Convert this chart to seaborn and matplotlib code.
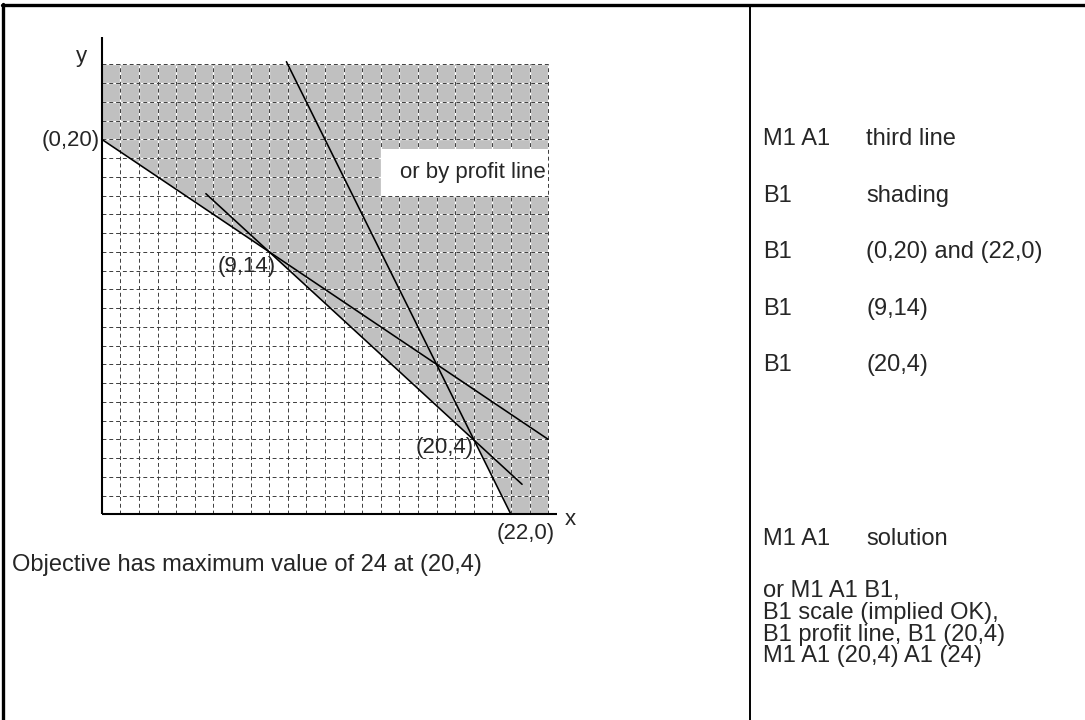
import matplotlib.pyplot as plt
import seaborn as sns

# corner points of the feasible region (labelled on the graph)
corner_x = [0, 9, 20, 22]
corner_y = [20, 14, 4, 0]
corner_labels = ["(0,20)", "(9,14)", "(20,4)", "(22,0)"]

# the three drawn lines, end points
line1_x = [0, 24]
line1_y = [20, 4]
line2_x = [5.6, 22.6]
line2_y = [17.1, 1.6]
line3_x = [9.93, 22]
line3_y = [24.14, 0]

grid_max = 24

# mark scheme column
marks = ["M1 A1", "B1", "B1", "B1", "B1", "M1 A1"]
notes = ["third line", "shading", "(0,20) and (22,0)", "(9,14)", "(20,4)", "solution"]
alt_notes = ["or M1 A1 B1,", "B1 scale (implied OK),",
             "B1 profit line, B1 (20,4)", "M1 A1 (20,4) A1 (24)"]
answer = "Objective has maximum value of 24 at (20,4)"

sns.set_style("white")
plt.rcParams["font.family"] = ["Liberation Sans", "DejaVu Sans"]

W, H = 1085, 720
fig = plt.figure(figsize=(W / 100, H / 100), dpi=100)
ax = fig.add_axes([0, 0, 1, 1])
ax.axis("off")

# map data units to pixels: x=0 at 101.7px, 18.6px per unit; y=0 at 514.3px from top, 18.75px per unit
x0, sx = 101.7, 18.6
y0, sy = H - 514.3, 18.75
ax.set_xlim(-x0 / sx, (W - x0) / sx)
ax.set_ylim(-y0 / sy, (H - y0) / sy)

# shaded (rejected) region
shade_x = [corner_x[0], 0, grid_max, grid_max] + corner_x[:0:-1]
shade_y = [corner_y[0], grid_max, grid_max, 0] + corner_y[:0:-1]
ax.fill(shade_x, shade_y, color="#c0c0c0", lw=0, zorder=1)

# graph paper grid
ticks = list(range(1, grid_max + 1))
ax.vlines(ticks, 0, grid_max, color="white", lw=0.9, zorder=2)
ax.hlines(ticks, 0, grid_max, color="white", lw=0.9, zorder=2)
ax.vlines(ticks, 0, grid_max, color="#3c3c3c", lw=0.7, linestyles=(0, (4, 3)), zorder=3)
ax.hlines(ticks, 0, grid_max, color="#3c3c3c", lw=0.7, linestyles=(0, (4, 3)), zorder=3)

# white box with note
ax.fill([15, 24, 24, 15], [17, 17, 19.5, 19.5], color="white", lw=0, zorder=4)
ax.text(23.9, 18.25, "or by profit line", fontsize=16, ha="right", va="center", zorder=8)

# lines
for lx, ly in [(line1_x, line1_y), (line2_x, line2_y), (line3_x, line3_y)]:
    sns.lineplot(x=lx, y=ly, ax=ax, color="black", lw=1.15, sort=False,
                 estimator=None, zorder=5)

# axes
ax.plot([0, 0], [0, 25.43], color="black", lw=1.5, zorder=6, solid_capstyle="butt")
ax.plot([0, 24.5], [0, 0], color="black", lw=1.5, zorder=6, solid_capstyle="butt")
ax.text(-1.1, 24.4, "y", fontsize=16, ha="center", va="center")
ax.text(25.2, -0.3, "x", fontsize=16, ha="center", va="center")

# corner labels
label_pos = [(-0.08, 19.96, "right"), (9.35, 13.2, "right"), (20.0, 3.55, "right"), (22.8, -1.05, "center")]
for (lx, ly, ha), lab in zip(label_pos, corner_labels):
    ax.text(lx, ly, lab, fontsize=16, ha=ha, va="center", zorder=8)

# figure pixel helpers
def fx(px):
    return px / W

def fy(py):
    return 1 - py / H

fig.text(fx(12), fy(571), answer, fontsize=17, va="baseline")

# table borders
tf = fig.transFigure
ax.plot([fx(3.3), fx(3.3)], [fy(3.5), fy(H)], transform=tf, color="black", lw=2.4, clip_on=False)
ax.plot([fx(2), fx(W)], [fy(5), fy(5)], transform=tf, color="black", lw=2.4, clip_on=False)
ax.plot([fx(750), fx(750)], [fy(5), fy(H)], transform=tf, color="black", lw=1.4, clip_on=False)

# mark scheme text
row_base = [145, 202, 258, 315, 371, 545]
for yb, m, n in zip(row_base, marks, notes):
    fig.text(fx(763), fy(yb), m, fontsize=17, va="baseline")
    fig.text(fx(866), fy(yb), n, fontsize=17, va="baseline")

alt_base = [597, 619, 641, 662]
for yb, t in zip(alt_base, alt_notes):
    fig.text(fx(763), fy(yb), t, fontsize=17, va="baseline")

fig.savefig("out.png", dpi=100)
